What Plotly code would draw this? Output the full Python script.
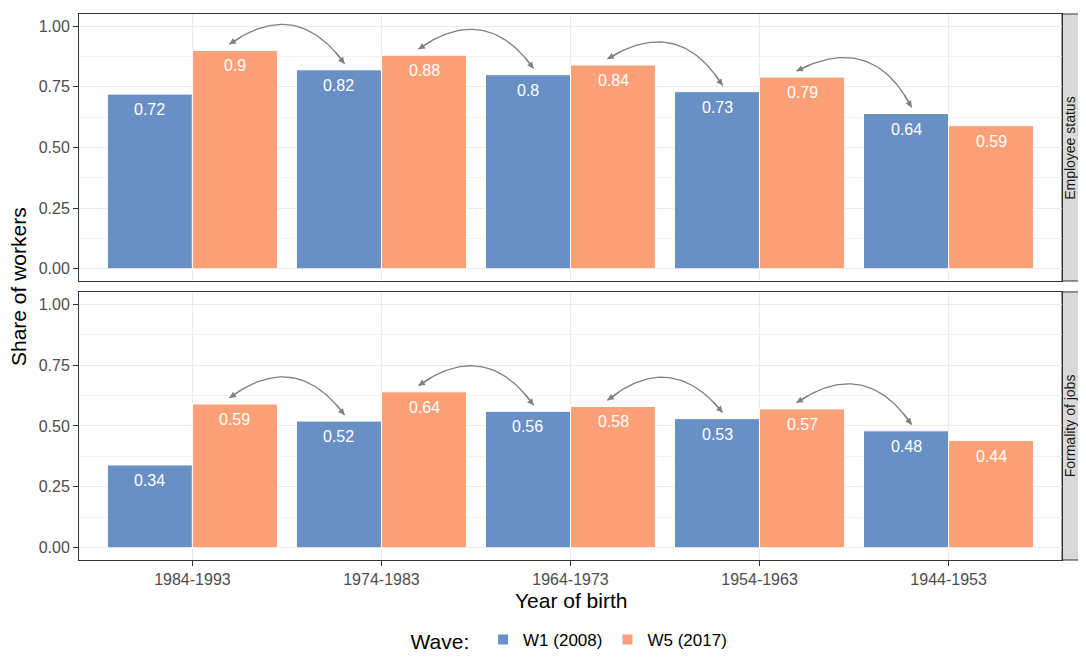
import numpy as np
import plotly.graph_objects as go
from plotly.subplots import make_subplots

cohorts = ["1984-1993", "1974-1983", "1964-1973", "1954-1963", "1944-1953"]
facets = ["Employee status", "Formality of jobs"]
waves = ["W1 (2008)", "W5 (2017)"]

emp_w1 = [0.72, 0.82, 0.80, 0.73, 0.64]
emp_w5 = [0.90, 0.88, 0.84, 0.79, 0.59]
form_w1 = [0.34, 0.52, 0.56, 0.53, 0.48]
form_w5 = [0.59, 0.64, 0.58, 0.57, 0.44]

panels = [(emp_w1, emp_w5), (form_w1, form_w5)]
colors = ["#6890C4", "#FCA077"]
FONT = "Liberation Sans, Arial, sans-serif"

# approximate pixels per data unit, used so the arcs bend like in the original
PX_X, PX_Y = 189.0, 243.0


def curve(x0, y0, x1, y1, bend=0.5, n=50):
    """quadratic bezier between two points, bulging upwards"""
    X0, Y0, X1, Y1 = x0 * PX_X, y0 * PX_Y, x1 * PX_X, y1 * PX_Y
    mx, my = (X0 + X1) / 2, (Y0 + Y1) / 2
    dx, dy = X1 - X0, Y1 - Y0
    cx, cy = mx - bend * dy, my + bend * dx
    t = np.linspace(0, 1, n)
    bx = (1 - t) ** 2 * X0 + 2 * t * (1 - t) * cx + t**2 * X1
    by = (1 - t) ** 2 * Y0 + 2 * t * (1 - t) * cy + t**2 * Y1
    return bx / PX_X, by / PX_Y


xpos = np.arange(len(cohorts))
BAR_OFF = 0.225  # half of a bar slot inside the group

fig = make_subplots(rows=2, cols=1, shared_xaxes=True, vertical_spacing=0.02)

annotations = []
for r, (w1, w5) in enumerate(panels, start=1):
    xr = "x" if r == 1 else "x2"
    yr = "y" if r == 1 else "y2"
    for k, (vals, name) in enumerate(zip((w1, w5), waves)):
        fig.add_trace(
            go.Bar(
                x=xpos,
                y=vals,
                name=name,
                marker=dict(color=colors[k], line=dict(color="white", width=1)),
                showlegend=(r == 1),
                legendgroup=name,
                hoverinfo="skip",
            ),
            row=r,
            col=1,
        )
        # value labels just under the top of each bar
        side = -BAR_OFF if k == 0 else BAR_OFF
        for xi, v in zip(xpos, vals):
            annotations.append(
                dict(
                    x=xi + side, y=v, xref=xr, yref=yr, text=f"{v:g}",
                    showarrow=False, yanchor="top", yshift=-5,
                    font=dict(size=16, color="white", family=FONT),
                )
            )

    # arcs from W5 bar of a cohort to W1 bar of the next (older) cohort
    for i in range(len(cohorts) - 1):
        x0, y0 = xpos[i] + 0.195, w5[i] + 0.025
        x1, y1 = xpos[i + 1] - 0.195, w1[i + 1] + 0.025
        cx, cy = curve(x0, y0, x1, y1)
        fig.add_trace(
            go.Scatter(
                x=cx,
                y=cy,
                mode="lines",
                line=dict(color="#808080", width=1.3),
                showlegend=False,
                hoverinfo="skip",
            ),
            row=r,
            col=1,
        )
        for head, tail in ((0, 5), (-1, -6)):
            annotations.append(
                dict(
                    x=cx[head], y=cy[head], ax=cx[tail], ay=cy[tail],
                    xref=xr, yref=yr, axref=xr, ayref=yr,
                    text="", showarrow=True, arrowhead=2, arrowsize=1,
                    arrowwidth=1.3, arrowcolor="#808080", standoff=0,
                )
            )

# facet strips on the right
for r, label in enumerate(facets):
    y0d, y1d = (0.511, 1.0) if r == 0 else (0.0, 0.491)
    fig.add_shape(
        type="rect", xref="paper", yref="paper",
        x0=1.0, x1=1.03, y0=y0d, y1=y1d,
        fillcolor="#D9D9D9", line=dict(color="#333333", width=1), layer="below",
    )
    annotations.append(
        dict(
            x=1.0085, y=(y0d + y1d) / 2, xref="paper", yref="paper",
            text=label, textangle=-90, showarrow=False,
            font=dict(size=14, color="#1a1a1a", family=FONT),
            xanchor="center", yanchor="middle",
        )
    )

annotations.append(
    dict(
        x=-0.062, y=0.5, xref="paper", yref="paper", text="Share of workers",
        textangle=-90, showarrow=False, xanchor="center", yanchor="middle",
        font=dict(size=21, color="black", family=FONT),
    )
)
annotations.append(
    dict(
        x=0.5, y=-0.074, xref="paper", yref="paper", text="Year of birth",
        showarrow=False, font=dict(size=21, color="black", family=FONT),
        xanchor="center", yanchor="middle",
    )
)

yaxis_style = dict(
    range=[-0.05, 1.05],
    tickvals=[0, 0.25, 0.5, 0.75, 1.0],
    ticktext=["0.00", "0.25", "0.50", "0.75", "1.00"],
    ticks="outside", ticklen=5, tickcolor="#333333",
    tickfont=dict(size=16, color="#4D4D4D", family=FONT),
    showgrid=True, gridcolor="#EBEBEB", gridwidth=1,
    minor=dict(tickvals=[0.125, 0.375, 0.625, 0.875], showgrid=True,
               gridcolor="#F2F2F2", gridwidth=1, ticks=""),
    showline=True, mirror=True, linecolor="#333333", linewidth=1,
    zeroline=False,
)
xaxis_style = dict(
    range=[-0.6, 4.6],
    tickvals=xpos,
    ticktext=cohorts,
    showgrid=True, gridcolor="#EBEBEB", gridwidth=1,
    showline=True, mirror=True, linecolor="#333333", linewidth=1,
    zeroline=False,
    tickfont=dict(size=16, color="#4D4D4D", family=FONT),
)

fig.update_yaxes(**yaxis_style)
fig.update_xaxes(**xaxis_style)
fig.update_xaxes(showticklabels=False, ticks="", row=1, col=1)
fig.update_xaxes(ticks="outside", ticklen=5, tickcolor="#333333", row=2, col=1)
fig.update_layout(yaxis_domain=[0.511, 1.0], yaxis2_domain=[0.0, 0.491])

# page body adds an 8px margin, so the figure is sized to fit inside the window
fig.update_layout(
    width=1070,
    height=652,
    margin=dict(l=71, r=16, t=6, b=100),
    paper_bgcolor="white",
    plot_bgcolor="white",
    barmode="group",
    bargap=0.1,
    bargroupgap=0,
    font=dict(family=FONT),
    annotations=annotations,
    legend=dict(
        orientation="h", x=0.5, xanchor="center",
        yref="container", y=0.0, yanchor="bottom",
        title=dict(text="Wave: ", font=dict(size=21, color="black", family=FONT)),
        font=dict(size=17, color="black", family=FONT),
        itemsizing="constant",
    ),
)

fig.write_html("out.html")
